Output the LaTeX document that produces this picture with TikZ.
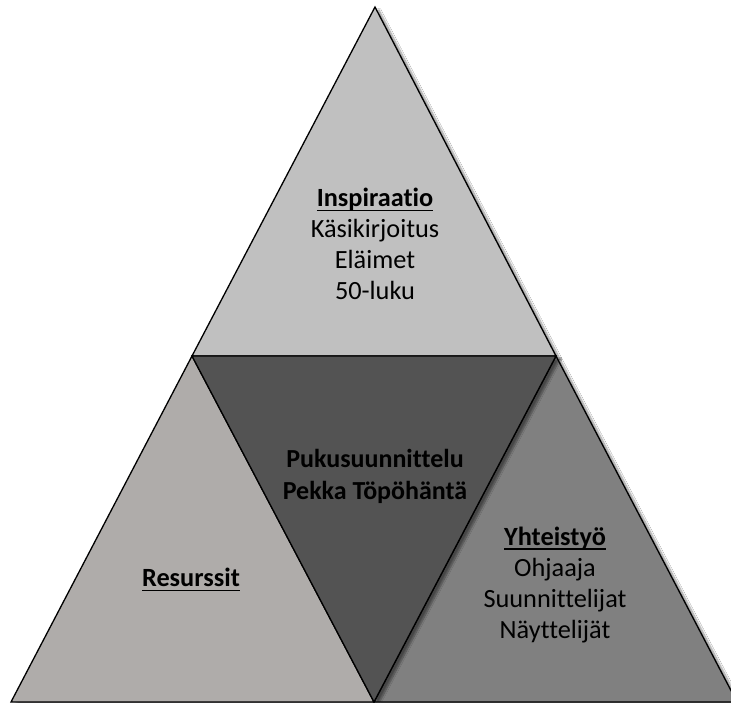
\documentclass[tikz,border=0pt]{standalone}
\usepackage{fontspec}
\setmainfont{Carlito}[Ligatures=NoCommon]
\usepackage{tikz}
\usetikzlibrary{shadows.blur}

% bold heading with a heavier underline
\newcommand\headline[1]{\textbf{\setbox0\hbox{#1}\rlap{\rule[-4.5pt]{\wd0}{1.6pt}}\box0}}

\begin{document}
\begin{tikzpicture}[x=1pt,y=-1pt,line width=1.3pt,line join=miter,
    tri/.style={draw=black,blur shadow={shadow xshift=4pt,shadow yshift=-3pt,shadow opacity=45,shadow blur steps=8}},
    label/.style={align=center,font=\fontsize{26.3}{31}\selectfont,text=black}]
  \useasboundingbox (0,0) rectangle (731,702);
  \coordinate (T)  at (375,7);
  \coordinate (ML) at (192,356);
  \coordinate (MR) at (556,356);
  \coordinate (BL) at (11,702);
  \coordinate (BM) at (374,702);
  \coordinate (BR) at (737,702);

  \fill[white] (0,0) rectangle (731,702);
  \filldraw[tri,fill={rgb,255:red,192;green,192;blue,192}] (T) -- (ML) -- (MR) -- cycle;
  \filldraw[tri,fill={rgb,255:red,175;green,172;blue,170}] (ML) -- (BL) -- (BM) -- cycle;
  \filldraw[tri,fill={rgb,255:red,128;green,128;blue,128}] (MR) -- (BM) -- (BR) -- cycle;
  \filldraw[tri,fill={rgb,255:red,83;green,83;blue,83}] (ML) -- (MR) -- (BM) -- cycle;

  \node[label] (inspiraatio) at (375,244)
    {\headline{Inspiraatio}\\Käsikirjoitus\\Eläimet\\50-luku};
  \node[label,font=\fontsize{26}{32}\selectfont\bfseries] (puku) at (375,476)
    {Pukusuunnittelu\\Pekka Töpöhäntä};
  \node[label] (resurssit) at (191,580) {\headline{Resurssit}};
  \node[label] (yhteistyo) at (555,585)
    {\headline{Yhteistyö}\\Ohjaaja\\Suunnittelijat\\Näyttelijät};
\end{tikzpicture}
\end{document}
